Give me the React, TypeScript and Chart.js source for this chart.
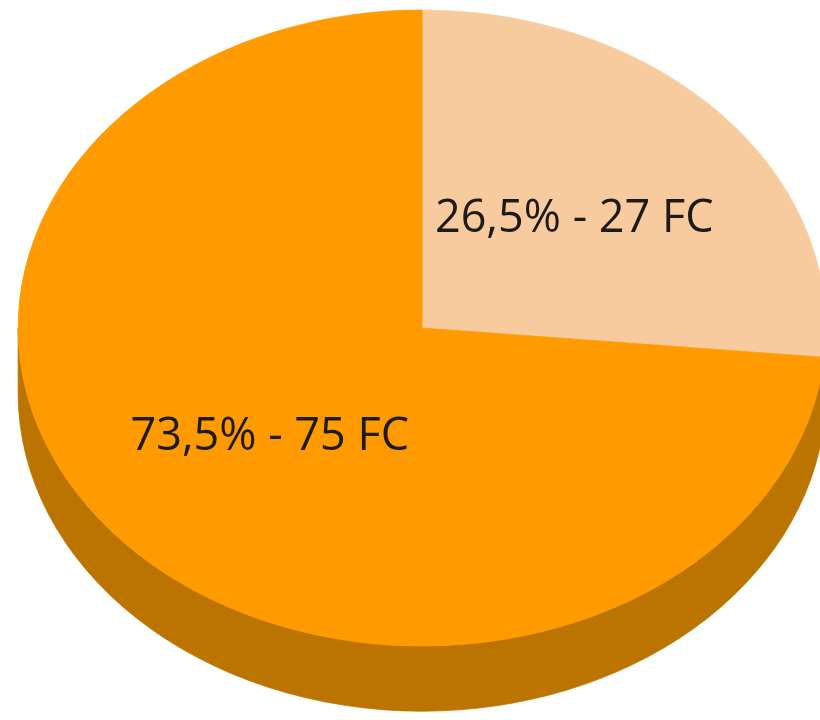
import React, { useEffect, useRef } from "react";
import { Chart, registerables } from "chart.js";

Chart.register(...registerables);

const categories = ["27 FC", "75 FC"];
const values = [27, 75];
const unit = "FC";
const topColors = ["#F8CB9E", "#FF9A00"];
const sideColors = ["#C99F74", "#BC7400"];

const TILT_X = 1.27; // horizontal stretch of the projected disk
const DEPTH = 0.205; // depth of the disk relative to radius
const LABEL_POS = 0.51;

function pctLabel(v: number, total: number) {
  return (Math.round((v / total) * 1000) / 10).toFixed(1).replace(".", ",") + "%";
}

const pie3d = {
  id: "pie3d",
  beforeDatasetsDraw(chart: any) {
    const ctx = chart.ctx as CanvasRenderingContext2D;
    const meta = chart.getDatasetMeta(0);
    const arcs = meta.data as any[];
    if (!arcs.length) return false;
    const cx = arcs[0].x;
    const cy = arcs[0].y;
    const ry = arcs[0].outerRadius;
    const rx = ry * TILT_X;
    const depth = ry * DEPTH;
    const ds = chart.data.datasets[0];
    const norm = (a: number) => {
      let r = a % (2 * Math.PI);
      if (r < -Math.PI / 2) r += 2 * Math.PI;
      return r;
    };
    ctx.save();
    // sides (visible for angles in [0, PI])
    arcs.forEach((arc, i) => {
      const segs: [number, number][] = [];
      let s = arc.startAngle;
      let e = arc.endAngle;
      for (let k = -1; k <= 1; k++) {
        const lo = Math.max(s, k * 2 * Math.PI);
        const hi = Math.min(e, k * 2 * Math.PI + Math.PI);
        if (hi > lo) segs.push([lo, hi]);
      }
      segs.forEach(([a, b]) => {
        ctx.beginPath();
        ctx.ellipse(cx, cy, rx, ry, 0, a, b, false);
        ctx.lineTo(cx + rx * Math.cos(b), cy + depth + ry * Math.sin(b));
        ctx.ellipse(cx, cy + depth, rx, ry, 0, b, a, true);
        ctx.closePath();
        ctx.fillStyle = sideColors[i];
        ctx.fill();
        ctx.strokeStyle = sideColors[i];
        ctx.lineWidth = 0.8;
        ctx.stroke();
      });
    });
    // top faces
    arcs.forEach((arc, i) => {
      ctx.beginPath();
      ctx.moveTo(cx, cy);
      ctx.ellipse(cx, cy, rx, ry, 0, arc.startAngle, arc.endAngle, false);
      ctx.closePath();
      ctx.fillStyle = ds.backgroundColor[i];
      ctx.fill();
      ctx.strokeStyle = ds.backgroundColor[i];
      ctx.lineWidth = 0.8;
      ctx.stroke();
    });
    // labels
    const total = values.reduce((a, b) => a + b, 0);
    ctx.fillStyle = "#1E1A16";
    ctx.font = "45px 'Open Sans', sans-serif";
    ctx.textAlign = "center";
    ctx.textBaseline = "middle";
    arcs.forEach((arc, i) => {
      const mid = (arc.startAngle + arc.endAngle) / 2;
      const x = cx + rx * LABEL_POS * Math.cos(mid);
      const y = cy + ry * LABEL_POS * Math.sin(mid);
      const text = `${pctLabel(values[i], total)} - ${values[i]} ${unit}`;
      ctx.fillText(text, x, y);
    });
    ctx.restore();
    void norm;
    return false;
  },
};

export default function App() {
  const ref = useRef<HTMLCanvasElement | null>(null);
  useEffect(() => {
    if (!ref.current) return;
    const chart = new Chart(ref.current, {
      type: "pie",
      data: {
        labels: categories,
        datasets: [
          {
            data: values,
            backgroundColor: topColors,
            borderWidth: 0,
          },
        ],
      },
      options: {
        responsive: false,
        animation: false,
        rotation: 0,
        layout: { padding: { left: 24, right: 0, top: 10, bottom: 74 } },
        plugins: {
          legend: { display: false },
          tooltip: { enabled: false },
        },
      },
      plugins: [pie3d],
    });
    return () => chart.destroy();
  }, []);
  return (
    <div style={{ position: "fixed", left: 0, top: 0, width: 820, height: 720, background: "#fff" }}>
      <canvas ref={ref} width={820} height={720} style={{ display: "block" }} />
    </div>
  );
}
